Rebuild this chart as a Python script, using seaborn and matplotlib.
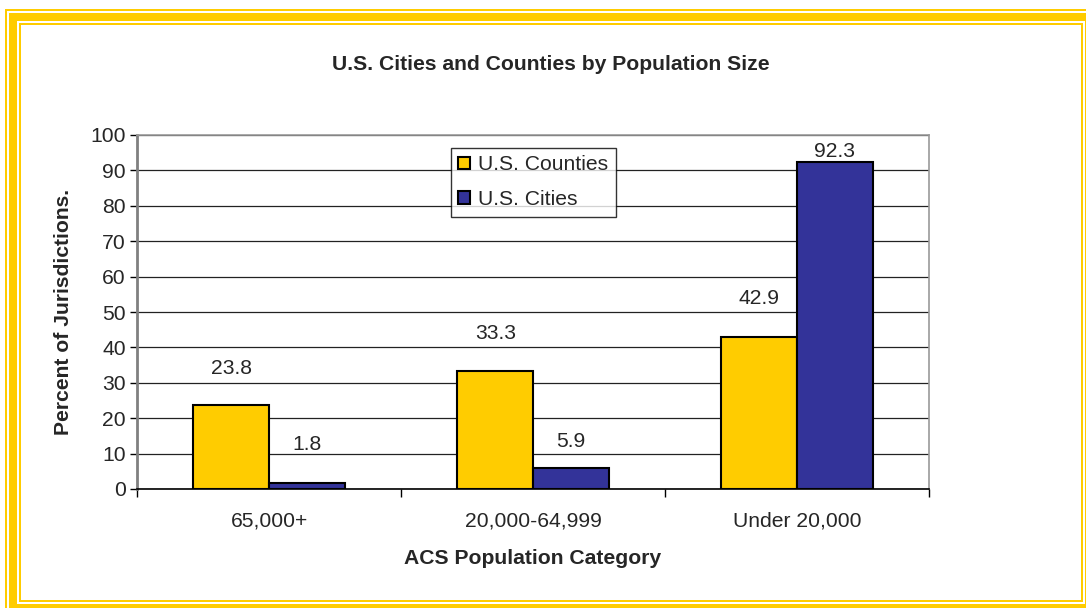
import matplotlib
matplotlib.use("Agg")
import matplotlib.pyplot as plt
import matplotlib.patches as mpatches
import seaborn as sns
import pandas as pd

categories = ["65,000+", "20,000-64,999", "Under 20,000"]
series = ["U.S. Counties", "U.S. Cities"]
counties = [23.8, 33.3, 42.9]
cities = [1.8, 5.9, 92.3]
yticks = [0, 10, 20, 30, 40, 50, 60, 70, 80, 90, 100]

df = pd.DataFrame({
    "category": categories * 2,
    "series": [series[0]] * 3 + [series[1]] * 3,
    "value": counties + cities,
})

sns.set_style("white")
plt.rcParams["font.family"] = ["Liberation Sans", "DejaVu Sans"]

FS = 15.2
GOLD = "#FFCC00"
fig = plt.figure(figsize=(10.86, 6.08), dpi=100)
W, H = 1086, 608
PX = 72 / 100  # points per pixel


def strip(x0, y0, x1, y1):
    """Filled gold strip given in pixel coordinates (y measured downward)."""
    fig.patches.append(mpatches.Rectangle(
        (x0 / W, 1 - y1 / H), (x1 - x0) / W, (y1 - y0) / H,
        transform=fig.transFigure, facecolor=GOLD, edgecolor="none",
        zorder=0))


def border(x0, y0, x1, y1, t):
    """Rectangular gold border with outer edges at x0..x1, y0..y1."""
    strip(x0, y0, x1, y0 + t)
    strip(x0, y1 - t, x1, y1)
    strip(x0, y0, x0 + t, y1)
    strip(x1 - t, y0, x1, y1)


# Triple gold frame around the chart
border(5, 9, 1200, 700, 2)
border(9, 13, 1093, 612, 8)
border(19, 23, 1083, 602, 2)

ax = fig.add_axes([137 / W, 1 - 489 / H, (929 - 137) / W, (489 - 135) / H])

palette = {"U.S. Counties": "#FFCC00", "U.S. Cities": "#333399"}
sns.barplot(data=df, x="category", y="value", hue="series", order=categories,
            hue_order=series, palette=palette, width=0.572, saturation=1,
            edgecolor="black", linewidth=1.5, ax=ax, zorder=3, legend=True)

ax.set_xlim(-0.5, 2.5)
ax.set_ylim(0, 100)
ax.set_yticks(yticks)
ax.yaxis.grid(True, color="#222222", linewidth=0.9, zorder=0)
ax.set_axisbelow(True)

for s in ["top", "right"]:
    ax.spines[s].set_color("#999999")
    ax.spines[s].set_linewidth(1.2)
ax.spines["left"].set_color("#808080")
ax.spines["left"].set_linewidth(2)
ax.spines["bottom"].set_color("black")
ax.spines["bottom"].set_linewidth(1.2)

ax.tick_params(axis="y", left=True, length=5, width=1, color="black",
               labelsize=FS, pad=3)
ax.set_xticks([0, 1, 2])
ax.set_xticklabels(categories)
ax.set_xticks([-0.5, 0.5, 1.5, 2.5], minor=True)
ax.tick_params(axis="x", which="major", length=0, labelsize=FS, pad=16)
ax.tick_params(axis="x", which="minor", bottom=True, length=6, width=1,
               color="black")

ax.set_xlabel("ACS Population Category", fontsize=FS, fontweight="bold")
ax.set_ylabel("Percent of Jurisdictions.", fontsize=FS, fontweight="bold")
ax.xaxis.set_label_coords(0.5, (489 - 549) / 354)
ax.yaxis.set_label_coords((73 - 137) / 792, 0.5)
fig.text(551 / W, 1 - 65 / H, "U.S. Cities and Counties by Population Size",
         ha="center", va="center", fontsize=FS, fontweight="bold")

# Value labels above each bar (offsets in pixels above bar top)
label_offsets = {0: [36, 37.5, 38.5], 1: [38, 27, 10.5]}
for i, cont in enumerate(ax.containers):
    for j, bar in enumerate(cont):
        h = bar.get_height()
        ax.annotate(f"{h:.1f}", (bar.get_x() + bar.get_width() / 2, h),
                    xytext=(0, label_offsets[i][j] * PX),
                    textcoords="offset points", ha="center", va="center",
                    fontsize=FS, zorder=5)

leg = ax.legend(loc="upper left", bbox_to_anchor=(0.396, 0.963),
                frameon=True, fancybox=False, shadow=False, fontsize=FS,
                handlelength=0.55, handleheight=0.55, handletextpad=0.4,
                borderpad=0.35, labelspacing=0.75, borderaxespad=0)
leg.get_frame().set_edgecolor("black")
leg.get_frame().set_linewidth(1)
leg.set_title(None)

fig.savefig("out.png", dpi=100)
